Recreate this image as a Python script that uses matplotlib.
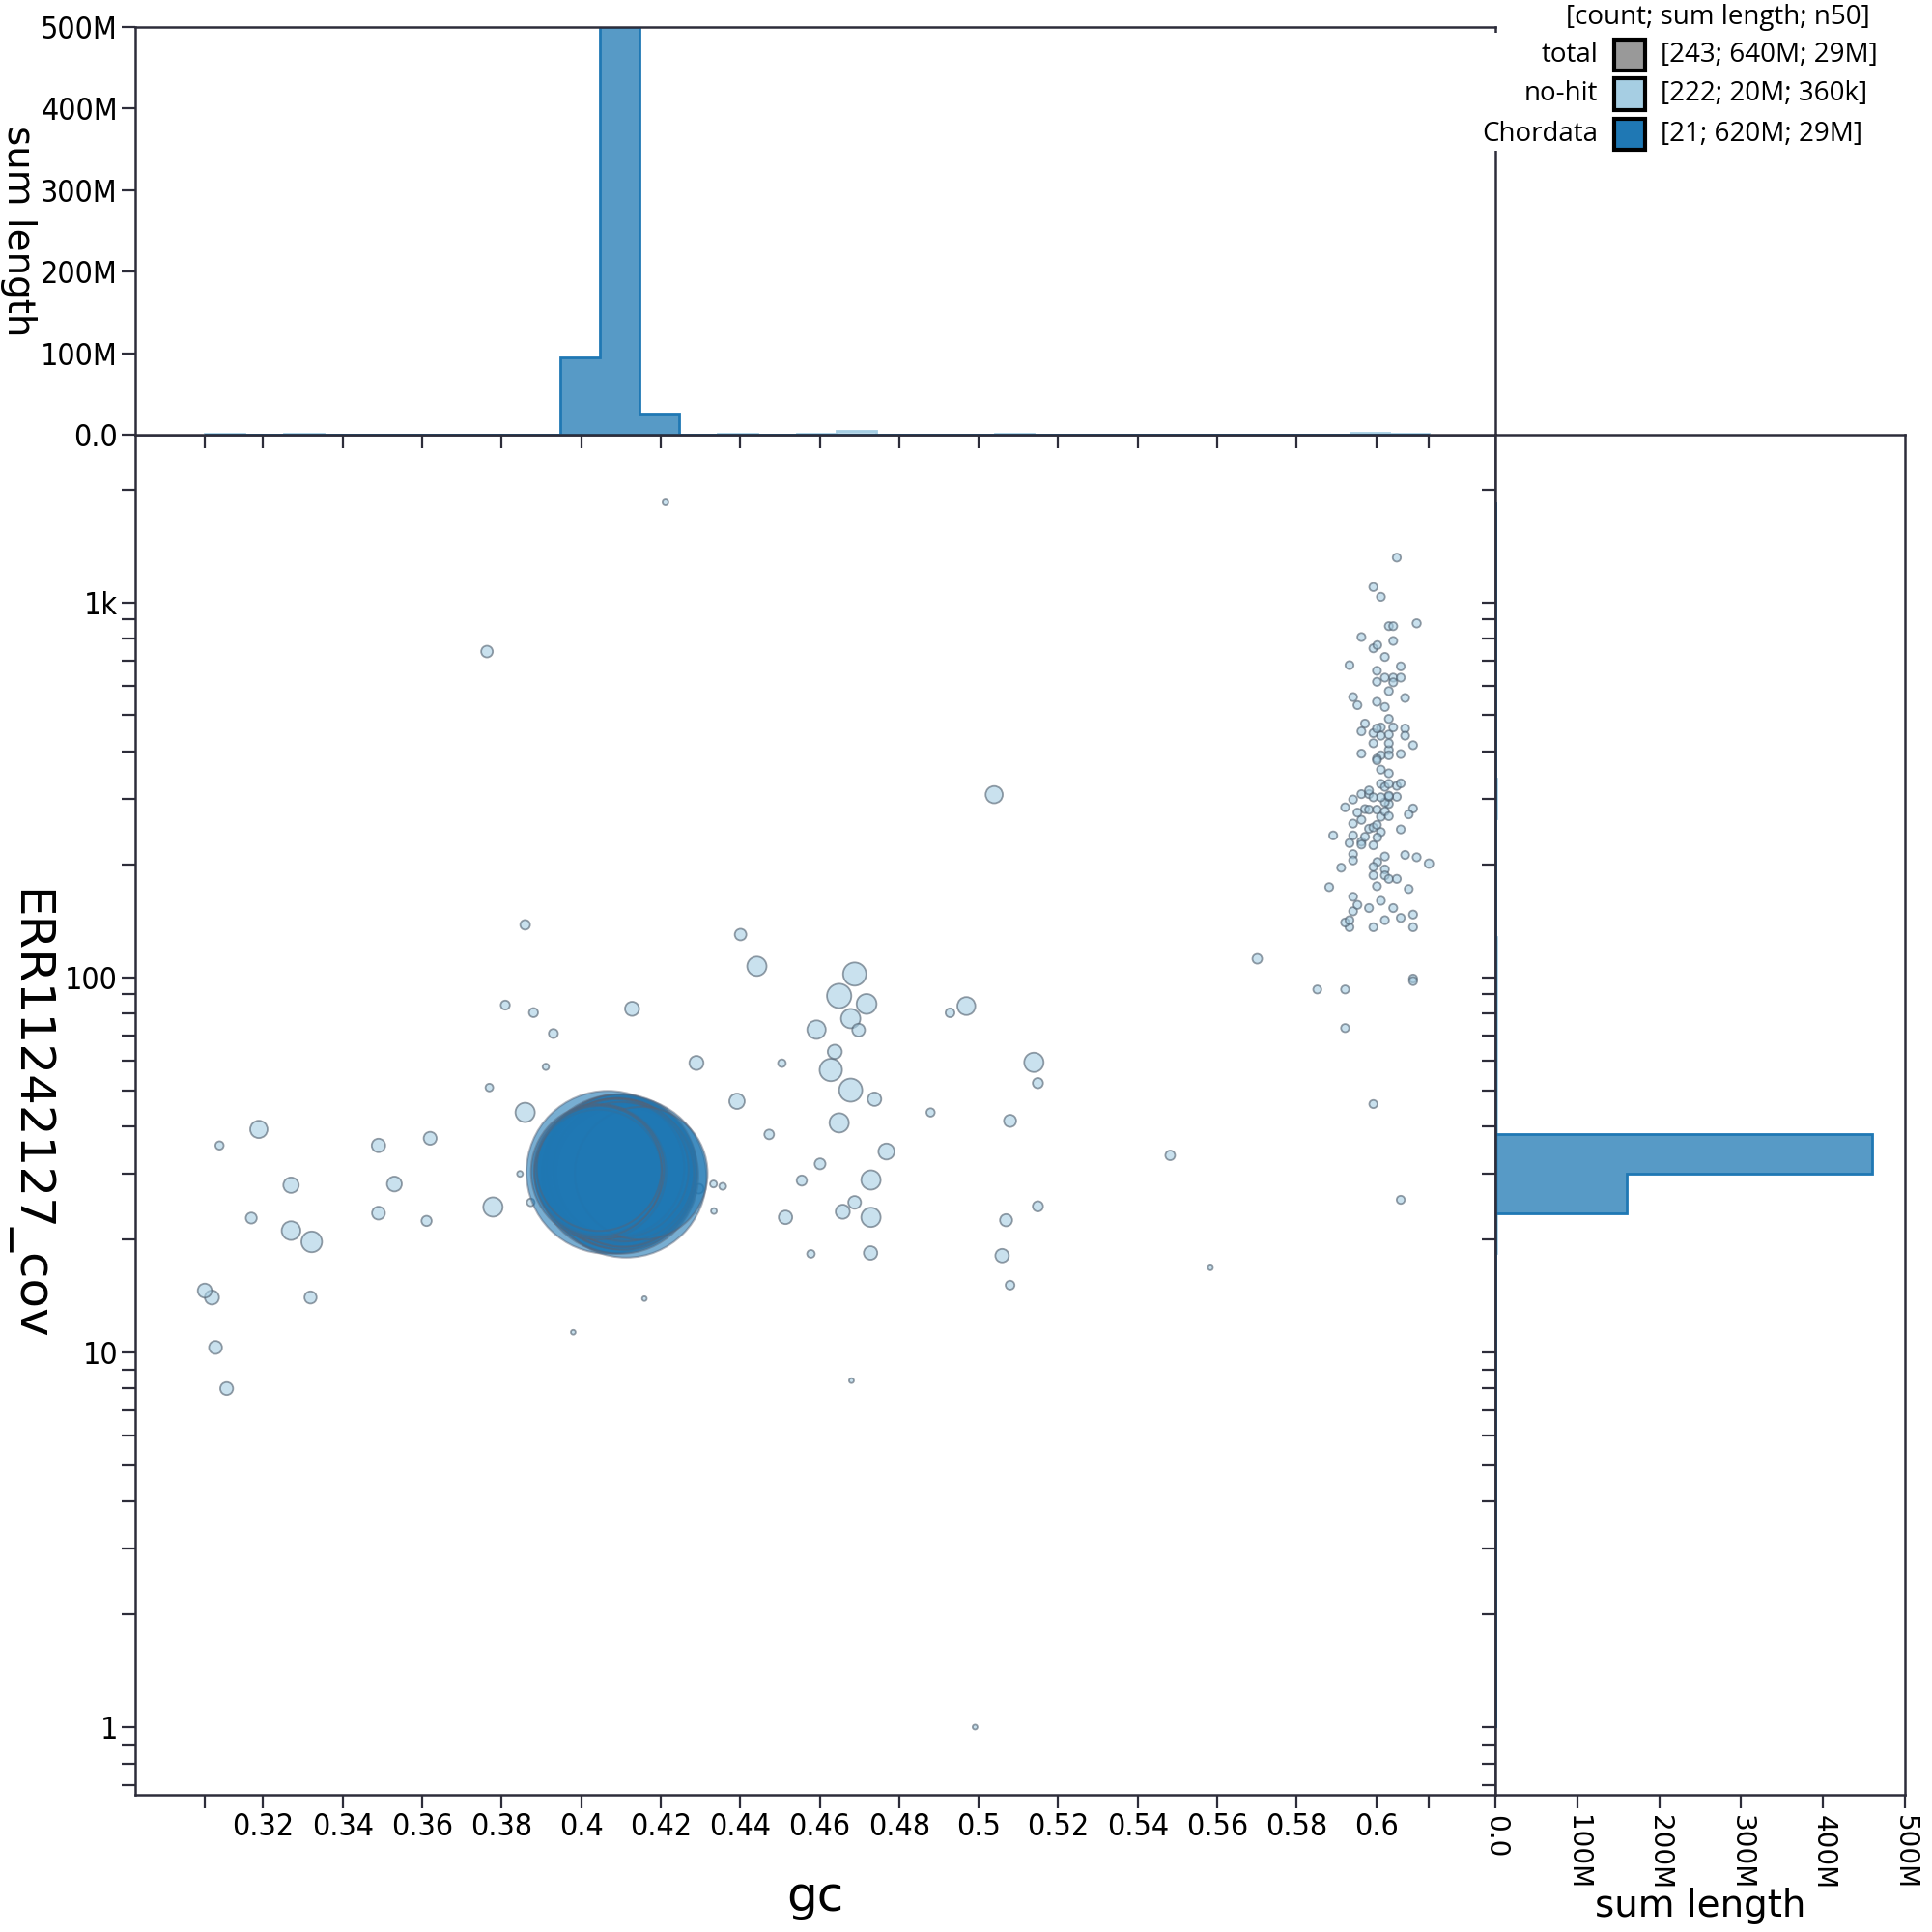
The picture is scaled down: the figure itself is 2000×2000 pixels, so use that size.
import numpy as np
import matplotlib
matplotlib.use("Agg")
import matplotlib.pyplot as plt
from matplotlib.patches import Rectangle
from matplotlib.ticker import LogLocator, NullFormatter
from matplotlib import font_manager as fm

plt.rcParams['font.family'] = ['DejaVu Sans']

# ---------------- data ----------------
# no-hit contigs away from the dense high-GC cluster
spread_gc = [0.3053, 0.3071, 0.3090, 0.3080, 0.3108, 0.3170, 0.3189, 0.3270, 0.3270, 0.3322,
             0.3319, 0.3490, 0.3490, 0.3530, 0.3611, 0.3620, 0.3763, 0.3769, 0.3778, 0.3809,
             0.3859, 0.3859, 0.3880, 0.3930, 0.3911, 0.3846, 0.3873, 0.3980, 0.4212, 0.4128,
             0.4159, 0.4290, 0.4296, 0.4333, 0.4356, 0.4334, 0.4401, 0.4442, 0.4392, 0.4473,
             0.4555, 0.4505, 0.4514, 0.4578, 0.4592, 0.4601, 0.4688, 0.4649, 0.4718, 0.4678,
             0.4698, 0.4928, 0.4969, 0.4638, 0.4628, 0.4678, 0.4738, 0.5139, 0.5149, 0.4879,
             0.5079, 0.4649, 0.4768, 0.5482, 0.4729, 0.4688, 0.4658, 0.4729, 0.5149, 0.5069,
             0.4728, 0.5059, 0.5079, 0.4680, 0.4991, 0.5039, 0.5583, 0.5701]
spread_cov = [14.6, 14.0, 35.6, 10.3, 8.0, 22.8, 39.3, 27.9, 21.1, 19.7,
              14.0, 35.6, 23.5, 28.1, 22.4, 37.2, 739, 50.8, 24.4, 84.3,
              138, 43.6, 80.5, 70.8, 57.7, 29.9, 25.1, 11.3, 1848, 82.4,
              13.9, 59.1, 27.3, 28.1, 27.7, 23.8, 130, 107, 46.7, 38.1,
              28.7, 59.0, 22.9, 18.3, 72.5, 31.8, 102, 89.2, 84.9, 77.6,
              72.3, 80.4, 83.8, 63.3, 56.6, 50.0, 47.3, 59.3, 52.2, 43.6,
              41.4, 40.9, 34.3, 33.5, 28.8, 25.1, 23.7, 22.9, 24.5, 22.5,
              18.4, 18.1, 15.1, 8.4, 1.0, 307, 16.8, 112]
spread_len_kb = [158, 158, 30, 124, 124, 77, 275, 202, 333, 425,
                 104, 140, 124, 183, 61, 124, 90, 22, 360, 41,
                 51, 360, 41, 41, 9.5, 5.6, 22, 1, 5.6, 158,
                 1, 158, 51, 14, 14, 5.6, 90, 360, 202, 51,
                 61, 22, 140, 22, 322, 74, 560, 632, 387, 360,
                 119, 38, 300, 158, 518, 560, 140, 360, 61, 30,
                 104, 360, 223, 51, 360, 119, 158, 360, 61, 104,
                 140, 140, 38, 1.5, 1.5, 267, 1.5, 51]

# no-hit contigs in the dense cluster at GC ~0.60
cluster_gc = [0.6052, 0.5993, 0.6012, 0.6032, 0.6043, 0.6102, 0.5963, 0.5993, 0.6003, 0.6043,
              0.6022, 0.5933, 0.6002, 0.6062, 0.6022, 0.6043, 0.6062, 0.6002, 0.6043, 0.6032,
              0.5942, 0.5953, 0.6002, 0.6022, 0.6073, 0.6032, 0.5972, 0.5963, 0.5993, 0.6012,
              0.6002, 0.6043, 0.6073, 0.6073, 0.6032, 0.5993, 0.6012, 0.6032, 0.6093, 0.5963,
              0.6002, 0.6002, 0.6012, 0.6032, 0.6032, 0.6062, 0.6012, 0.6032, 0.6012, 0.6022,
              0.6032, 0.6052, 0.6062, 0.5963, 0.5942, 0.5982, 0.5982, 0.5993, 0.6012, 0.6032,
              0.6032, 0.6052, 0.6022, 0.6032, 0.5922, 0.5953, 0.5972, 0.5982, 0.6002, 0.6012,
              0.6022, 0.6032, 0.6093, 0.6082, 0.5942, 0.5963, 0.5982, 0.5993, 0.6002, 0.6012,
              0.6062, 0.5892, 0.5942, 0.5972, 0.5963, 0.5963, 0.5993, 0.6003, 0.5933, 0.5942,
              0.5942, 0.6022, 0.6073, 0.6102, 0.6133, 0.6003, 0.5993, 0.5912, 0.5993, 0.6022,
              0.6022, 0.6032, 0.6052, 0.5882, 0.6002, 0.6082, 0.5942, 0.5953, 0.6012, 0.5982,
              0.6043, 0.5942, 0.5922, 0.5933, 0.5933, 0.5993, 0.6022, 0.6062, 0.6093, 0.6093,
              0.6093, 0.6093, 0.5852, 0.5922, 0.5922, 0.5993, 0.6062]
cluster_cov = [1316, 1098, 1034, 864, 864, 879, 808, 754, 769, 789,
               715, 680, 657, 675, 630, 630, 630, 614, 612, 580,
               559, 532, 543, 526, 556, 489, 475, 453, 448, 464,
               461, 464, 461, 441, 444, 421, 441, 421, 416, 395,
               383, 379, 391, 404, 391, 394, 358, 350, 328, 322,
               328, 324, 329, 308, 298, 315, 308, 302, 302, 305,
               303, 303, 293, 290, 284, 275, 281, 280, 280, 268,
               277, 269, 282, 272, 257, 263, 249, 251, 255, 244,
               248, 239, 239, 237, 230, 226, 225, 236, 228, 213,
               205, 210, 212, 209, 201, 203, 197, 196, 187, 194,
               187, 183, 183, 174, 175, 172, 164, 156, 160, 153,
               153, 150, 140, 142, 136, 136, 142, 144, 147, 136,
               99.2, 97.7, 92.8, 92.8, 73.2, 45.9, 25.5]
cluster_len_kb = [27, 27, 27, 27, 27, 30, 27, 27, 27, 27,
                  27, 27, 27, 27, 27, 27, 27, 27, 27, 27,
                  27, 27, 27, 27, 27, 27, 27, 27, 27, 27,
                  27, 27, 27, 27, 27, 27, 27, 27, 27, 27,
                  27, 27, 27, 27, 27, 27, 27, 27, 27, 27,
                  27, 27, 27, 27, 27, 27, 27, 27, 27, 27,
                  27, 27, 27, 27, 27, 27, 27, 27, 27, 27,
                  27, 27, 27, 27, 27, 27, 27, 27, 27, 27,
                  27, 27, 27, 27, 27, 27, 27, 27, 27, 27,
                  27, 27, 27, 27, 35, 27, 27, 27, 27, 27,
                  27, 27, 27, 27, 27, 27, 27, 27, 27, 27,
                  27, 27, 27, 27, 27, 27, 27, 27, 27, 27,
                  27, 27, 27, 27, 27, 27, 27]

# Chordata scaffolds
chordata_gc = [0.4067, 0.4113, 0.4090, 0.4098, 0.4095, 0.4100, 0.4092, 0.4105, 0.4088, 0.4102,
               0.4096, 0.4108, 0.4094, 0.4110, 0.4086, 0.4100, 0.4044, 0.4151, 0.4045, 0.4043,
               0.4045]
chordata_cov = [30.2, 29.3, 29.9, 29.6, 30.3, 30.6, 30.1, 29.5, 30.4, 29.7,
                30.5, 29.4, 30.8, 30.2, 31.0, 30.7, 30.3, 30.0, 30.6, 30.0,
                30.9]
chordata_len_mb = [38, 37, 36, 35, 34, 33, 32, 31, 30, 29,
                   29, 28, 28, 27, 27, 26, 26, 25, 24, 23,
                   22]

legend_names = ["total", "no-hit", "Chordata"]
legend_counts = ["243", "222", "21"]
legend_sums = ["640M", "20M", "620M"]
legend_n50 = ["29M", "360k", "29M"]
legend_colors = ["#999999", "#a6cee3", "#1f78b4"]

x_tick_values = [0.32, 0.34, 0.36, 0.38, 0.40, 0.42, 0.44, 0.46, 0.48, 0.50,
                 0.52, 0.54, 0.56, 0.58, 0.60]
y_tick_values = [1, 10, 100, 1000]
y_tick_labels = ["1", "10", "100", "1k"]
hist_tick_values = [0, 100e6, 200e6, 300e6, 400e6, 500e6]
hist_tick_labels = ["0.0", "100M", "200M", "300M", "400M", "500M"]

# ---------------- derived arrays ----------------
nohit_gc = np.array(spread_gc + cluster_gc)
nohit_cov = np.array(spread_cov + cluster_cov)
nohit_len = np.array(spread_len_kb + cluster_len_kb) * 1e3
ch_gc = np.array(chordata_gc)
ch_cov = np.array(chordata_cov)
ch_len = np.array(chordata_len_mb) * 1e6

all_gc = np.concatenate([nohit_gc, ch_gc])
all_cov = np.concatenate([nohit_cov, ch_cov])
gc_bins = np.linspace(all_gc.min(), all_gc.max(), 32)
cov_bins = np.logspace(np.log10(all_cov.min()), np.log10(all_cov.max()), 32)

DPI = 100
def marker_area(length):
    r_px = 2 + 89.5 * np.sqrt(length / 45e6)
    return (2 * r_px * 72.0 / DPI) ** 2

NOHIT = '#a6cee3'
CHORD = '#1f78b4'
SPINE = '#2d2d3a'

# tick-label font: condensed DejaVu if available
has_cond = any(f.name == 'DejaVu Sans' and str(f.stretch) in ('condensed', 'semi-condensed', '300', '400')
               for f in fm.fontManager.ttflist)
if has_cond:
    TICK = dict(fontsize=23, fontstretch='condensed')
else:
    TICK = dict(fontsize=20)

# ---------------- layout ----------------
W = H = 2000
def box(l, t, r, b):
    return [l / W, 1 - b / H, (r - l) / W, (b - t) / H]

fig = plt.figure(figsize=(20, 20), dpi=DPI, facecolor='white')
ax = fig.add_axes(box(140, 450, 1548, 1858))
axt = fig.add_axes(box(140, 28, 1548, 450))
axr = fig.add_axes(box(1548, 450, 1972, 1858))

XLIM = (0.2878, 0.6300)
YLIM = (0.66, 2800)

# ---------------- main scatter ----------------
order = np.argsort(-nohit_len)
ax.scatter(nohit_gc[order], nohit_cov[order], s=marker_area(nohit_len[order]),
           facecolors=matplotlib.colors.to_rgba(NOHIT, 0.6),
           edgecolors=(0.30, 0.36, 0.42, 0.6), linewidths=1.3, zorder=2)
order = np.argsort(-ch_len)
ax.scatter(ch_gc[order], ch_cov[order], s=marker_area(ch_len[order]),
           facecolors=matplotlib.colors.to_rgba(CHORD, 0.6),
           edgecolors=(0.35, 0.38, 0.45, 0.45), linewidths=1.5, zorder=3)

ax.set_xlim(*XLIM)
ax.set_yscale('log')
ax.set_ylim(*YLIM)
xt = x_tick_values + [all_gc.min(), all_gc.max()]
xl = [f"{v:g}" for v in x_tick_values] + ["", ""]
ax.set_xticks(xt, xl, **TICK)
ax.set_yticks(y_tick_values, y_tick_labels, **TICK)
ax.yaxis.set_minor_locator(LogLocator(base=10, subs=np.arange(2, 10), numticks=30))
ax.yaxis.set_minor_formatter(NullFormatter())
ax.tick_params(axis='both', which='both', direction='out', length=10, width=1.6,
               color=SPINE, pad=3)

ax.set_xlabel('gc', fontsize=36)
ax.xaxis.set_label_coords(0.5, -0.075)
ax.xaxis.label.set_va('center')
ax.set_ylabel('ERR11242127_cov', fontsize=36, rotation=-90, rotation_mode='anchor')
ax.yaxis.set_label_coords(-0.0795, 0.5)
ax.yaxis.label.set_va('center')
ax.yaxis.label.set_ha('center')

# ---------------- top histogram ----------------
axt.hist(nohit_gc, bins=gc_bins, weights=nohit_len, histtype='stepfilled',
         facecolor=matplotlib.colors.to_rgba(NOHIT, 0.75), edgecolor=NOHIT, linewidth=2)
axt.hist(ch_gc, bins=gc_bins, weights=ch_len, histtype='stepfilled',
         facecolor=matplotlib.colors.to_rgba(CHORD, 0.75), edgecolor=CHORD, linewidth=2)
axt.set_xlim(*XLIM)
axt.set_ylim(0, 5e8)
axt.set_xticks(xt)
axt.set_yticks(hist_tick_values, hist_tick_labels, **TICK)
axt.tick_params(axis='x', direction='out', length=10, width=1.6, color=SPINE, labelbottom=False)
axt.tick_params(axis='y', direction='out', length=10, width=1.6, color=SPINE, pad=3)
axt.set_ylabel('sum length', fontsize=28, rotation=-90, rotation_mode='anchor')
axt.yaxis.set_label_coords(-0.086, 0.5)
axt.yaxis.label.set_va('center')
axt.yaxis.label.set_ha('center')

# ---------------- right histogram ----------------
axr.hist(nohit_cov, bins=cov_bins, weights=nohit_len, histtype='stepfilled',
         orientation='horizontal',
         facecolor=matplotlib.colors.to_rgba(NOHIT, 0.75), edgecolor=NOHIT, linewidth=2)
axr.hist(ch_cov, bins=cov_bins, weights=ch_len, histtype='stepfilled',
         orientation='horizontal',
         facecolor=matplotlib.colors.to_rgba(CHORD, 0.75), edgecolor=CHORD, linewidth=2)
axr.set_yscale('log')
axr.set_ylim(*YLIM)
axr.set_xlim(0, 5e8)
axr.set_yticks(y_tick_values)
axr.yaxis.set_minor_locator(LogLocator(base=10, subs=np.arange(2, 10), numticks=30))
axr.yaxis.set_minor_formatter(NullFormatter())
axr.tick_params(axis='y', which='both', direction='out', length=10, width=1.6,
                color=SPINE, labelleft=False)
axr.set_xticks(hist_tick_values, hist_tick_labels, fontsize=20)
axr.tick_params(axis='x', direction='out', length=10, width=1.6, color=SPINE,
                labelrotation=-90, pad=5)
axr.set_xlabel('sum length', fontsize=28)
axr.xaxis.set_label_coords(0.5, -0.0817)
axr.xaxis.label.set_va('center')

for a in (ax, axt, axr):
    for sp in a.spines.values():
        sp.set_color(SPINE)
        sp.set_linewidth(1.8)

# ---------------- legend ----------------
fig.add_artist(Rectangle((1542 / W, 1 - 156 / H), (W - 1542) / W, (156 - 34) / H,
                         transform=fig.transFigure, facecolor='white', edgecolor='none',
                         zorder=5))
LEG_FONT = ['Open Sans', 'DejaVu Sans']
fig.text(1778 / W, 1 - 18 / H, "[count; sum length; n50]", ha='center', va='center',
         fontsize=20, family=LEG_FONT, zorder=6)
row_y = [57, 97.5, 139]
for name, cnt, sm, n50, col, yc in zip(legend_names, legend_counts, legend_sums,
                                        legend_n50, legend_colors, row_y):
    fig.add_artist(Rectangle((1671 / W, 1 - (yc + 16) / H), 32 / W, 32 / H,
                             transform=fig.transFigure, facecolor=col,
                             edgecolor='black', linewidth=3, zorder=6))
    fig.text(1654 / W, 1 - yc / H, name, ha='right', va='center',
             fontsize=20, family=LEG_FONT, zorder=6)
    fig.text(1719 / W, 1 - yc / H, f"[{cnt}; {sm}; {n50}]", ha='left', va='center',
             fontsize=20, family=LEG_FONT, zorder=6)

fig.savefig('out.png', dpi=DPI, facecolor='white')
